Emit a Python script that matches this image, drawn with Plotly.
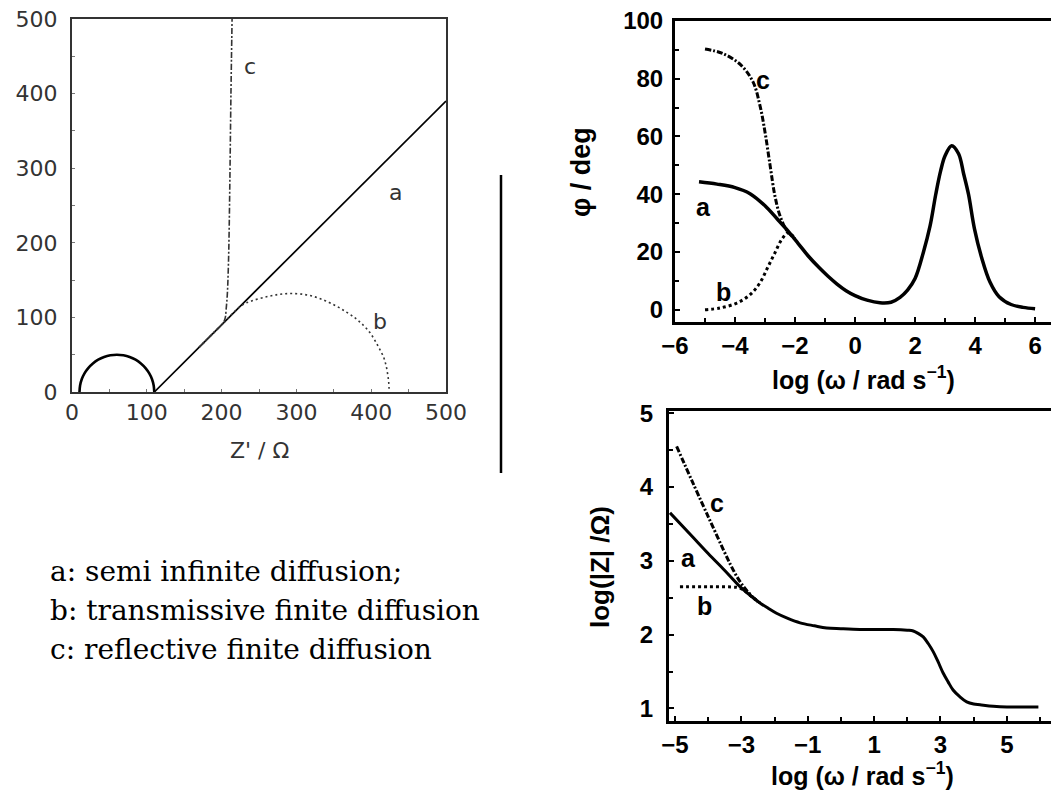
import plotly.graph_objects as go

# ---------------- data ----------------
# Nyquist plot: Z' (ohm) vs -Z'' (ohm)
nyq_a_x = [10, 10.8, 13, 16.7, 21.7, 27.9, 35, 42.9, 51.3, 60, 68.7, 77.1, 85, 92.1, 98.3, 103.3, 107, 109.2, 110,
           200, 300, 400, 500]
nyq_a_y = [0, 8.7, 17.1, 25, 32.1, 38.3, 43.3, 47, 49.2, 50, 49.2, 47, 43.3, 38.3, 32.1, 25, 17.1, 8.7, 0,
           90, 190, 290, 390]
nyq_b_x = [170, 200, 226.8, 240, 260, 278, 296, 315, 332, 350, 367, 380, 390, 398, 405, 411, 416.5, 420, 422, 423.5, 424]
nyq_b_y = [60, 90, 116, 122, 127.6, 131, 132, 130, 125, 117, 107, 98, 89, 80, 69, 58, 47, 35, 24, 12, 0]
nyq_c_x = [170, 190, 200, 203, 205, 206, 207.6, 208.8, 209.8, 211, 212.5, 214]
nyq_c_y = [60, 80, 90, 94, 100, 110, 130, 160, 200, 280, 400, 500]

# Bode phase: log(omega) vs phase angle (deg)
ph_a_x = [-5.2, -4.6, -4.0, -3.5, -3.0, -2.6, -2.28, -1.9, -1.56, -1.2, -0.9, -0.6, -0.3, 0.0, 0.4, 0.83,
          1.2, 1.5, 1.75, 2.0, 2.28, 2.5, 2.69, 2.85, 3.0, 3.22, 3.45, 3.62, 3.78, 3.98, 4.22, 4.5, 4.8, 5.2, 5.6, 6.0]
ph_a_y = [44.3, 43.5, 42.3, 40.2, 36.0, 31.5, 27.8, 23.0, 18.6, 14.6, 11.6, 8.9, 6.6, 4.9, 3.3, 2.4,
          2.6, 4.3, 6.8, 10.8, 20, 29, 40, 48, 53.3, 56.8, 54, 47, 40, 28, 18, 9.5, 4.5, 1.8, 0.8, 0.3]
ph_b_x = [-5.0, -4.5, -3.94, -3.5, -3.17, -2.89, -2.67, -2.44, -2.22, -2.0]
ph_b_y = [0, 0.6, 2.3, 5.2, 9.3, 15.1, 19.7, 24.4, 26.7, 24.5]
ph_c_x = [-5.0, -4.4, -3.8, -3.4, -3.17, -3.0, -2.83, -2.67, -2.5, -2.28, -2.0]
ph_c_y = [90.3, 88.7, 84.7, 78.9, 70.8, 61.5, 49.9, 39.4, 32.5, 27.5, 24.5]

# Bode modulus: log(omega) vs log|Z|
mod_a_x = [-5.15, -4.5, -4.0, -3.5, -3.04, -2.7, -2.44, -2.2, -1.94, -1.6, -1.23, -0.8, -0.43, 0.0, 0.57, 1.0,
           1.58, 2.0, 2.18, 2.35, 2.48, 2.63, 2.78, 2.93, 3.08, 3.23, 3.38, 3.58, 3.79, 4.0, 4.19, 4.59, 5.0, 5.5, 5.95]
mod_a_y = [3.65, 3.34, 3.10, 2.87, 2.65, 2.52, 2.43, 2.36, 2.29, 2.22, 2.16, 2.12, 2.09, 2.08, 2.07, 2.07,
           2.07, 2.06, 2.05, 2.01, 1.97, 1.88, 1.77, 1.63, 1.48, 1.36, 1.25, 1.16, 1.09, 1.06, 1.05, 1.03, 1.02, 1.02, 1.02]
mod_b_x = [-4.85, -4.0, -3.3, -3.04, -2.7, -2.44]
mod_b_y = [2.65, 2.65, 2.645, 2.63, 2.52, 2.43]
mod_c_x = [-4.95, -4.0, -3.14, -2.84, -2.5]
mod_c_y = [4.55, 3.6, 2.79, 2.6, 2.44]

legend_lines = ["a: semi infinite diffusion;",
                "b: transmissive finite diffusion",
                "c: reflective finite diffusion"]

# ---------------- layout helpers ----------------
W, H = 1051, 791


def px(x):
    return x / W


def py(y):
    return 1 - y / H


SANS = "DejaVu Sans"
BOLD = "Liberation Sans"
SERIF = "DejaVu Serif"

# panel boxes in pixels: (left, right, top, bottom)
NYQ = (72, 446, 19, 392)
PHS = (675, 1051, 21, 322)
MOD = (669, 1051, 411, 721)

fig = go.Figure()

# Nyquist curves: the charge-transfer arc (first 19 points of curve a) is drawn heavier
n_arc = 19
fig.add_trace(go.Scatter(x=nyq_a_x[:n_arc], y=nyq_a_y[:n_arc], mode="lines",
                         line=dict(color="black", width=2.6, shape="spline"), xaxis="x", yaxis="y"))
fig.add_trace(go.Scatter(x=nyq_a_x[n_arc - 1:], y=nyq_a_y[n_arc - 1:], mode="lines",
                         line=dict(color="black", width=1.7), xaxis="x", yaxis="y"))
fig.add_trace(go.Scatter(x=nyq_b_x, y=nyq_b_y, mode="lines",
                         line=dict(color="#333", width=1.6, dash="2px,3px", shape="spline"), xaxis="x", yaxis="y"))
fig.add_trace(go.Scatter(x=nyq_c_x, y=nyq_c_y, mode="lines",
                         line=dict(color="#333", width=1.6, dash="6px,2px,2px,2px", shape="spline"),
                         xaxis="x", yaxis="y"))

# Phase curves
fig.add_trace(go.Scatter(x=ph_a_x, y=ph_a_y, mode="lines", line=dict(color="black", width=3.5, shape="spline"),
                         xaxis="x2", yaxis="y2"))
fig.add_trace(go.Scatter(x=ph_b_x, y=ph_b_y, mode="lines",
                         line=dict(color="black", width=3, dash="3px,3px", shape="spline"), xaxis="x2", yaxis="y2"))
fig.add_trace(go.Scatter(x=ph_c_x, y=ph_c_y, mode="lines",
                         line=dict(color="black", width=3, dash="6px,2px,2px,2px", shape="spline"),
                         xaxis="x2", yaxis="y2"))

# Modulus curves
fig.add_trace(go.Scatter(x=mod_a_x, y=mod_a_y, mode="lines", line=dict(color="black", width=3, shape="spline"),
                         xaxis="x3", yaxis="y3"))
fig.add_trace(go.Scatter(x=mod_b_x, y=mod_b_y, mode="lines",
                         line=dict(color="black", width=3, dash="3px,3px", shape="spline"), xaxis="x3", yaxis="y3"))
fig.add_trace(go.Scatter(x=mod_c_x, y=mod_c_y, mode="lines",
                         line=dict(color="black", width=3, dash="6px,2px,2px,2px", shape="spline"),
                         xaxis="x3", yaxis="y3"))

thin_tick = dict(family=SANS, size=22, color="#333")
bold_tick = dict(family=BOLD, size=24, color="black", weight="bold")

nyq_axis = dict(showgrid=False, zeroline=False, showline=True, linecolor="#333", linewidth=2, mirror=True,
                ticks="inside", ticklen=3, tickcolor="#777", tickfont=thin_tick, dtick=100, tick0=0,
                automargin=False,
                minor=dict(dtick=50, ticks="inside", ticklen=3, tickcolor="#777"))
bode_axis = dict(showgrid=False, zeroline=False, showline=True, linecolor="black", linewidth=3, mirror=True,
                 ticks="inside", ticklen=5, tickwidth=2, tickcolor="black", tickfont=bold_tick, automargin=False)

fig.update_layout(
    width=W, height=H, margin=dict(l=0, r=0, t=0, b=0, autoexpand=False),
    template="none",
    paper_bgcolor="white", plot_bgcolor="white", showlegend=False,
    xaxis=dict(nyq_axis, domain=[px(NYQ[0]), px(NYQ[1])], range=[0, 500], anchor="y", ticklabelstandoff=0),
    yaxis=dict(nyq_axis, domain=[py(NYQ[3]), py(NYQ[2])], range=[0, 500], anchor="x", ticklabelstandoff=8),
    xaxis2=dict(bode_axis, domain=[px(PHS[0]), 1.0], range=[-6, 6.53], anchor="y2", dtick=2, tick0=0,
                minor=dict(dtick=1, ticks="inside", ticklen=4, tickwidth=2, tickcolor="black"),
                ticklabelstandoff=0),
    yaxis2=dict(bode_axis, domain=[py(PHS[3]), py(PHS[2])], range=[-4.26, 100], anchor="x2", dtick=20, tick0=0,
                minor=dict(dtick=10, ticks="inside", ticklen=4, tickwidth=2, tickcolor="black"),
                ticklabelstandoff=4),
    xaxis3=dict(bode_axis, domain=[px(MOD[0]), 1.0], range=[-5.18, 6.33], anchor="y3", dtick=2, tick0=-5,
                minor=dict(dtick=1, ticks="inside", ticklen=4, tickwidth=2, tickcolor="black"),
                ticklabelstandoff=0),
    yaxis3=dict(bode_axis, domain=[py(MOD[3]), py(MOD[2])], range=[0.83, 5.03], anchor="x3", dtick=1, tick0=0,
                minor=dict(dtick=0.5, ticks="inside", ticklen=4, tickwidth=2, tickcolor="black"),
                ticklabelstandoff=8),
)

annotations = []


def label(text, x, y, xref, yref, font, **kw):
    kw.setdefault("xanchor", "center")
    kw.setdefault("yanchor", "middle")
    annotations.append(dict(text=text, x=x, y=y, xref=xref, yref=yref, showarrow=False, font=font, **kw))


curve_thin = dict(family=SANS, size=22, color="#333")
curve_bold = dict(family=BOLD, size=25, color="black", weight="bold")
title_bold = dict(family=BOLD, size=25, color="black", weight="bold")

# curve letters
label("c", 238, 436, "x", "y", curve_thin)
label("a", 432, 268, "x", "y", curve_thin)
label("b", 412, 94, "x", "y", curve_thin)
label("a", -5.06, 35.7, "x2", "y2", curve_bold)
label("b", -4.38, 6.3, "x2", "y2", curve_bold)
label("c", -3.06, 79.6, "x2", "y2", curve_bold)
label("c", -3.74, 3.78, "x3", "y3", curve_bold)
label("a", -4.6, 3.04, "x3", "y3", curve_bold)
label("b", -4.1, 2.39, "x3", "y3", curve_bold)

# axis titles
label("Z' / Ω", px(259), py(450), "paper", "paper", dict(family=SANS, size=22, color="#333"))
label("log (ω / rad s<sup>−1</sup>)", px(863), py(378), "paper", "paper", title_bold)
label("φ / deg", px(581), py(172), "paper", "paper", dict(family=BOLD, size=27, color="black", weight="bold"),
      textangle=-90)
label("log (ω / rad s<sup>−1</sup>)", px(862), py(774), "paper", "paper", title_bold)
label("log(|Z| /Ω)", px(600), py(567), "paper", "paper", dict(family=BOLD, size=26, color="black", weight="bold"),
      textangle=-90)

# description lines
for i, line in enumerate(legend_lines):
    label(line, px(48), py(571 + 39 * i), "paper", "paper", dict(family=SERIF, size=28, color="black"),
          xanchor="left")

fig.update_layout(annotations=annotations)

# separator between the Nyquist and Bode panels
fig.add_shape(type="line", xref="paper", yref="paper", layer="above",
              x0=px(501), y0=py(175), x1=px(501), y1=py(473), line=dict(color="black", width=2.5))

fig.write_html("out.html")
